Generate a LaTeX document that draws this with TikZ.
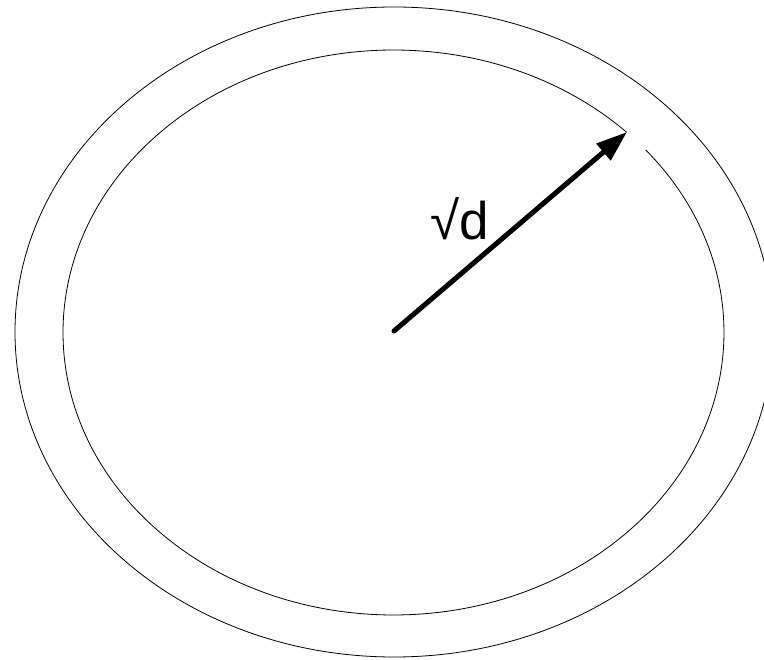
\documentclass[tikz,border=0pt]{standalone}
\usepackage{fontspec}
\setmainfont{Liberation Sans}
\usetikzlibrary{arrows.meta}
\tikzset{
  ring/.style={draw=black, line width=0.8pt},
  radius arrow/.style={line width=5pt, line cap=round, -{Triangle[length=31pt,width=21pt]}},
  label text/.style={inner sep=0pt, font=\fontsize{53pt}{60pt}\selectfont}
}
\begin{document}
\begin{tikzpicture}[x=1pt,y=-1pt]
\useasboundingbox (0,0) rectangle (764,660);
\clip (0,0) rectangle (764,660);
\fill[white] (0,0) rectangle (764,660);
\coordinate (c) at (394,331);
\coordinate (tip) at (627,132);
% outer ellipse
\draw[ring] (394,332) ellipse [x radius=379, y radius=325];
% inner ellipse with a gap at the arrow tip
\draw[ring] (393.5,332.5) ++(45.1:330.5 and -282.5) arc [start angle=45.1, end angle=400.3, x radius=330.5, y radius=-282.5];
\draw[radius arrow] (c) -- (tip);
\node[label text, anchor=base] (lbl) at (460,240) {√d};
\end{tikzpicture}
\end{document}
